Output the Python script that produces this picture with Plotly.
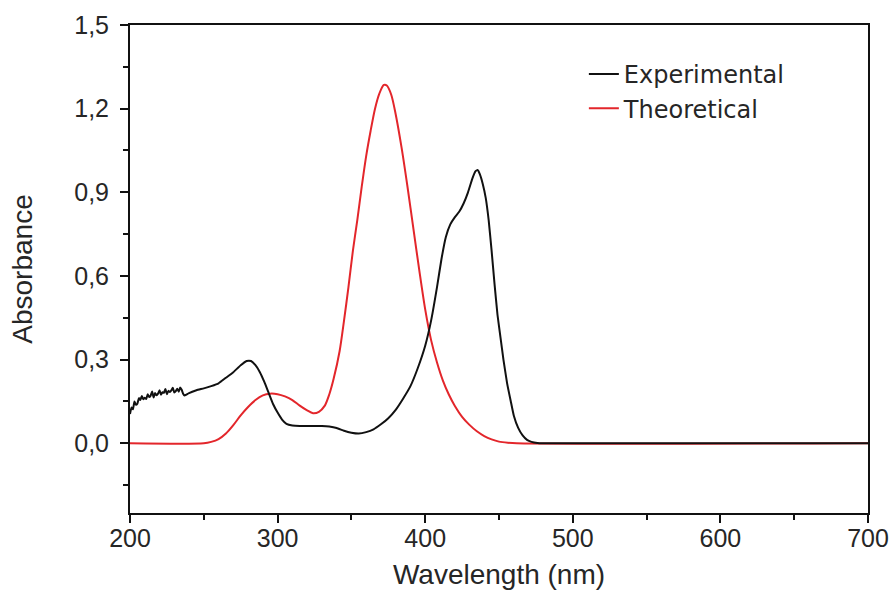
import plotly.graph_objects as go

# Experimental UV-Vis absorption spectrum
exp_wl = [200, 201, 202, 203, 204, 205, 206, 207, 208, 209, 210, 211, 212, 213, 214,
          215, 216, 217, 218, 219, 220, 221, 222, 223, 224, 225, 226, 227, 228, 229,
          230, 231, 232, 233, 234, 235, 236, 237, 238, 240, 245, 250, 255, 260, 265,
          270, 275, 279, 282, 285, 288, 291, 294, 297, 300, 303, 306, 310, 315, 320,
          325, 330, 335, 340, 345, 350, 355, 360, 365, 370, 375, 380, 385, 390, 395,
          400, 404, 408, 411, 414, 417, 420, 423, 426, 429, 432, 434, 435.5, 437, 439,
          441, 443, 445, 447, 449, 451, 453, 455.5, 458, 460, 463, 466, 469, 472, 476,
          480, 500, 550, 600, 650, 700]
exp_abs = [0.105, 0.128, 0.122, 0.15, 0.138, 0.142, 0.162, 0.155, 0.17, 0.158, 0.163, 0.159,
           0.176, 0.166, 0.171, 0.186, 0.164, 0.18, 0.172, 0.178, 0.19, 0.174, 0.183,
           0.181, 0.195, 0.176, 0.188, 0.184, 0.19, 0.199, 0.182, 0.187, 0.196, 0.185, 0.2,
           0.192, 0.178, 0.171, 0.174, 0.18, 0.19, 0.197, 0.205, 0.215, 0.235, 0.255,
           0.28, 0.295, 0.295, 0.28, 0.255, 0.22, 0.18, 0.14, 0.11, 0.085, 0.07, 0.064,
           0.062, 0.062, 0.062, 0.062, 0.06, 0.055, 0.045, 0.038, 0.035, 0.04, 0.05,
           0.068, 0.09, 0.12, 0.16, 0.205, 0.27, 0.35, 0.44, 0.56, 0.66, 0.74, 0.785,
           0.81, 0.83, 0.86, 0.9, 0.95, 0.975, 0.98, 0.965, 0.93, 0.88, 0.8, 0.69, 0.57,
           0.46, 0.38, 0.3, 0.215, 0.15, 0.1, 0.055, 0.028, 0.012, 0.005, 0.001, 0.0,
           0.0, 0.0, 0.0, 0.0, 0.0]

# Calculated (TD-DFT) spectrum
theo_wl = [200, 250, 255, 260, 265, 270, 275, 280, 285, 290, 295, 300, 305, 310, 315,
           320, 324, 328, 332, 335, 338, 342, 345, 348, 351, 354, 357, 360, 363, 366,
           369, 372, 374, 377, 380, 384, 388, 392, 396, 400, 404, 408, 412, 416, 420,
           425, 430, 435, 440, 445, 450, 456, 462, 700]
theo_abs = [0.0, 0.0, 0.005, 0.015, 0.035, 0.065, 0.1, 0.13, 0.155, 0.172, 0.178, 0.176,
            0.168, 0.155, 0.135, 0.118, 0.108, 0.113, 0.135, 0.175, 0.232, 0.33, 0.44,
            0.56, 0.69, 0.8, 0.92, 1.03, 1.12, 1.2, 1.255, 1.285, 1.283, 1.25, 1.18,
            1.06, 0.92, 0.77, 0.62, 0.48, 0.37, 0.29, 0.225, 0.175, 0.135, 0.095, 0.066,
            0.043, 0.026, 0.014, 0.006, 0.002, 0.0, 0.0]

x_ticks = [200, 300, 400, 500, 600, 700]
y_ticks = [0.0, 0.3, 0.6, 0.9, 1.2, 1.5]

FONT = "Liberation Sans, Arial, sans-serif"
LEGEND_FONT = "DejaVu Sans, Verdana, sans-serif"
TEXT = "#262626"
AXIS = "#111111"

fig = go.Figure()
fig.add_trace(go.Scatter(
    x=theo_wl, y=theo_abs, mode="lines", name="Theoretical",
    line=dict(color="#e3262b", width=2, shape="spline", smoothing=0.8),
    legendrank=2,
))
fig.add_trace(go.Scatter(
    x=exp_wl, y=exp_abs, mode="lines", name="Experimental",
    line=dict(color="#111111", width=2, shape="spline", smoothing=0.4),
    legendrank=1,
))

axis_common = dict(
    showline=True, linecolor=AXIS, linewidth=2, mirror=True,
    ticks="outside", ticklen=8, tickwidth=1.5, tickcolor=AXIS,
    showgrid=False, zeroline=False, automargin=False,
    tickfont=dict(family=FONT, size=25, color=TEXT),
)

fig.update_xaxes(
    range=[200, 700], tickvals=x_ticks,
    minor=dict(ticks="outside", ticklen=5, tickwidth=1.5, tickcolor=AXIS, dtick=50),
    ticklabelstandoff=-6,
    title=dict(text="Wavelength (nm)", font=dict(family=FONT, size=28, color=TEXT),
               standoff=13),
    **axis_common,
)
fig.update_yaxes(
    range=[-0.25, 1.5], tickvals=y_ticks, tickformat=".1f",
    minor=dict(ticks="outside", ticklen=5, tickwidth=1.5, tickcolor=AXIS,
               tick0=0, dtick=0.15),
    ticklabelstandoff=6,
    title=dict(text="Absorbance", font=dict(family=FONT, size=28, color=TEXT),
               standoff=33),
    **axis_common,
)

fig.update_layout(
    width=896, height=592,
    margin=dict(l=130, r=28, t=25, b=79),
    plot_bgcolor="white", paper_bgcolor="white",
    separators=",.",
    font=dict(family=FONT, size=25, color=TEXT),
    legend=dict(x=0.615, y=0.945, xanchor="left", yanchor="top",
                bgcolor="rgba(0,0,0,0)",
                font=dict(family=LEGEND_FONT, size=24, color=TEXT)),
)

fig.write_html("out.html")
